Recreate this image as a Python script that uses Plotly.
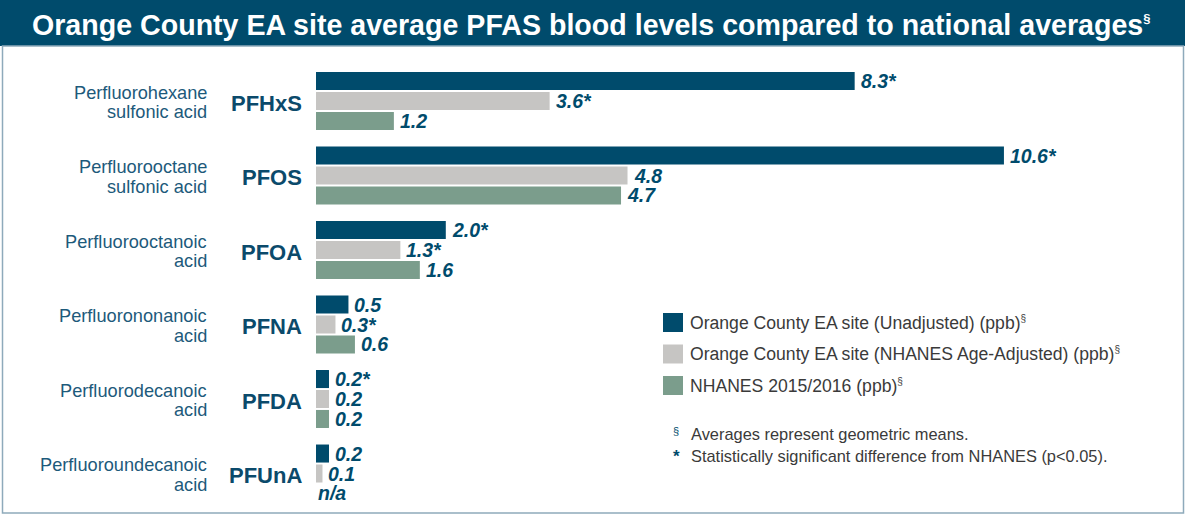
import plotly.graph_objects as go

# data (ppb, geometric means)
abbrevs = ["PFHxS", "PFOS", "PFOA", "PFNA", "PFDA", "PFUnA"]
names_line1 = ["Perfluorohexane", "Perfluorooctane", "Perfluorooctanoic",
               "Perfluorononanoic", "Perfluorodecanoic", "Perfluoroundecanoic"]
names_line2 = ["sulfonic acid", "sulfonic acid", "acid", "acid", "acid", "acid"]

unadjusted = [8.3, 10.6, 2.0, 0.5, 0.2, 0.2]
unadjusted_labels = ["8.3*", "10.6*", "2.0*", "0.5", "0.2*", "0.2"]
age_adjusted = [3.6, 4.8, 1.3, 0.3, 0.2, 0.1]
age_adjusted_labels = ["3.6*", "4.8", "1.3*", "0.3*", "0.2", "0.1"]
nhanes = [1.2, 4.7, 1.6, 0.6, 0.2, None]
nhanes_labels = ["1.2", "4.7", "1.6", "0.6", "0.2", "n/a"]

series_names = ["Orange County EA site (Unadjusted) (ppb)",
                "Orange County EA site (NHANES Age-Adjusted) (ppb)",
                "NHANES 2015/2016 (ppb)"]

DARK = "#004b6c"
GRAY = "#c6c5c3"
GREEN = "#7b9d8c"
NAME_COL = "#1d5a7b"
TEXT_COL = "#3a3a3a"
FONT = "Liberation Sans, Arial, sans-serif"
SECT = "<sup><span style='font-size:10px'>§</span></sup>"

W, H = 1185, 515
L, R, T, B = 316, 20, 46, 2
PW, PH = W - L - R, H - T - B
XMAX = PW / 64.9          # ~64.9 px per ppb
PITCH = 74.5              # px between groups
YTOP = -(101 - T) / PITCH
YBOT = YTOP + PH / PITCH

def px(x):
    return (x - L) / PW

def py(y):
    return 1 - (y - T) / PH

offsets = [-0.268, 0.0, 0.268]
bar_w = 0.242
series = [(unadjusted, unadjusted_labels, DARK),
          (age_adjusted, age_adjusted_labels, GRAY),
          (nhanes, nhanes_labels, GREEN)]

fig = go.Figure()
annotations = []
for k, (vals, labels, col) in enumerate(series):
    ypos = [i + offsets[k] for i in range(len(abbrevs))]
    fig.add_trace(go.Bar(x=vals, y=ypos, orientation="h", width=bar_w,
                         marker=dict(color=col, line=dict(width=0)),
                         name=series_names[k], showlegend=False, hoverinfo="x"))
    for v, lab, yy in zip(vals, labels, ypos):
        annotations.append(dict(x=v if v is not None else 0, y=yy, xref="x", yref="y",
                                text=lab, showarrow=False, xanchor="left", yanchor="middle",
                                xshift=4 if v is not None else 0,
                                font=dict(family=FONT, size=19.5, color=DARK,
                                          weight="bold", style="italic")))

# row labels
for i in range(len(abbrevs)):
    annotations.append(dict(x=px(304), y=i, xref="paper", yref="y", text=abbrevs[i],
                            showarrow=False, xanchor="right", yanchor="middle", yshift=-2,
                            font=dict(family=FONT, size=22, color="#0b4a6b", weight="bold")))
    for txt, ys in ((names_line1[i], 8.5), (names_line2[i], -11)):
        annotations.append(dict(x=px(209), y=i, xref="paper", yref="y", text=txt,
                                showarrow=False, xanchor="right", yanchor="middle", yshift=ys,
                                font=dict(family=FONT, size=18.2, color=NAME_COL)))

# title
annotations.append(dict(x=px(30), y=py(25), xref="paper", yref="paper",
                        text="Orange County EA site average PFAS blood levels compared to national averages"
                             + "<sup><span style='font-size:13px'>§</span></sup>",
                        showarrow=False, xanchor="left", yanchor="middle",
                        font=dict(family=FONT, size=28.6, color="white", weight="bold")))

shapes = [
    dict(type="rect", xref="paper", yref="paper", x0=px(0), x1=px(W), y0=py(0), y1=py(46),
         fillcolor=DARK, line=dict(width=0), layer="below"),
    dict(type="rect", xref="paper", yref="paper", x0=px(2.5), x1=px(1183.5), y0=py(46), y1=py(513),
         fillcolor="rgba(0,0,0,0)", line=dict(color="#8eaabb", width=1.5), layer="below"),
]

# legend drawn by hand to match the square swatches
for k, col in enumerate([DARK, GRAY, GREEN]):
    y0 = 313 + 31.5 * k
    shapes.append(dict(type="rect", xref="paper", yref="paper", x0=px(663), x1=px(683),
                       y0=py(y0), y1=py(y0 + 19), fillcolor=col, line=dict(width=0)))
    annotations.append(dict(x=px(688), y=py(y0 + 9.5), xref="paper", yref="paper",
                            text=series_names[k] + SECT, showarrow=False,
                            xanchor="left", yanchor="middle",
                            font=dict(family=FONT, size=17.6, color=TEXT_COL)))

# footnotes
notes = [("§", "Averages represent geometric means.", 434, 11),
         ("*", "Statistically significant difference from NHANES (p<0.05).", 456, 17)]
for sym, txt, yy, ss in notes:
    annotations.append(dict(x=px(676), y=py(yy), xref="paper", yref="paper", text=sym,
                            showarrow=False, xanchor="center", yanchor="middle",
                            yshift=3 if sym == "§" else 0,
                            font=dict(family=FONT, size=ss, color=DARK,
                                      weight="bold" if sym == "*" else "normal")))
    annotations.append(dict(x=px(689), y=py(yy), xref="paper", yref="paper", text=txt,
                            showarrow=False, xanchor="left", yanchor="middle",
                            font=dict(family=FONT, size=16.4, color=TEXT_COL)))

fig.update_layout(
    width=W, height=H, barmode="overlay",
    margin=dict(l=L, r=R, t=T, b=B, pad=0),
    paper_bgcolor="white", plot_bgcolor="white",
    xaxis=dict(range=[0, XMAX], visible=False, fixedrange=True),
    yaxis=dict(range=[YBOT, YTOP], visible=False, fixedrange=True),
    shapes=shapes, annotations=annotations,
    showlegend=False,
)

fig.write_html("out.html", config={"displayModeBar": False},
               post_script="document.body.style.margin='0px';")
